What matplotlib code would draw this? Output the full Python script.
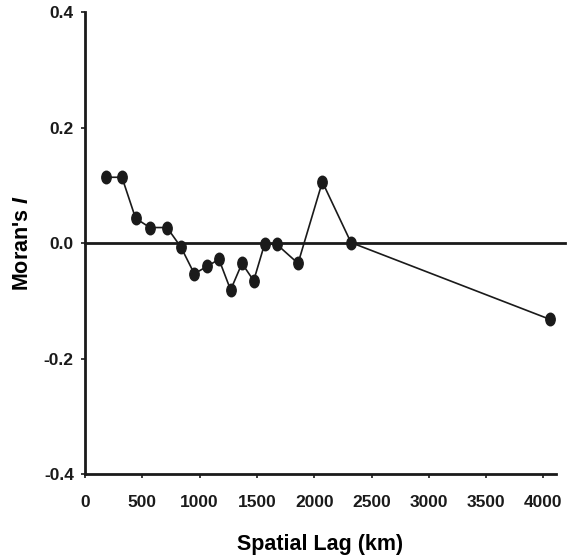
import numpy as np
import matplotlib
matplotlib.use("Agg")
import matplotlib.pyplot as plt
from matplotlib.path import Path
from matplotlib.transforms import Affine2D

plt.rcParams['font.family'] = ['Liberation Sans', 'DejaVu Sans']
plt.rcParams['font.weight'] = 'bold'
plt.rcParams['mathtext.fontset'] = 'custom'
plt.rcParams['mathtext.it'] = 'Liberation Sans:italic:bold'

lag_km = [183, 323, 442, 567, 716, 838, 954, 1067, 1169, 1271, 1370, 1472,
          1568, 1673, 1859, 2071, 2321, 4058]
morans_i = [0.114, 0.114, 0.043, 0.027, 0.027, -0.007, -0.053, -0.040, -0.028,
            -0.081, -0.035, -0.065, -0.001, -0.002, -0.035, 0.106, 0.001, -0.132]

x_ticks = [0, 500, 1000, 1500, 2000, 2500, 3000, 3500, 4000]
y_ticks = [-0.4, -0.2, 0.0, 0.2, 0.4]

# tall oval marker like the original
oval = Path.unit_circle().transformed(Affine2D().scale(0.75, 1.0))

fig = plt.figure(figsize=(5.7, 5.58), dpi=100)
ax = fig.add_axes([0.149, 0.15, 0.826, 0.8285])

# zero line runs a little past the end of the x axis
ax.axhline(0, xmax=1.02, color='#1a1a1a', lw=2.0, zorder=1, clip_on=False)
ax.plot(lag_km, morans_i, color='#1a1a1a', lw=1.2, marker=oval, ms=9,
        mfc='#1a1a1a', mec='#1a1a1a', zorder=3)

ax.set_xlim(0, 4107)
ax.set_ylim(-0.4, 0.4)
ax.set_xticks(x_ticks)
ax.set_yticks(y_ticks)
ax.set_yticklabels(['%.1f' % v for v in y_ticks])

for s in ['top', 'right']:
    ax.spines[s].set_visible(False)
for s in ['left', 'bottom']:
    ax.spines[s].set_linewidth(2.0)
    ax.spines[s].set_color('#1a1a1a')

ax.tick_params(axis='both', direction='out', length=3, width=1.2,
               labelsize=12.5, colors='#1a1a1a', pad=5)
ax.tick_params(axis='x', pad=12)

ax.set_xlabel('Spatial Lag (km)', fontsize=15.5, fontweight='bold', labelpad=17)
ax.set_ylabel(r"Moran's $\mathit{I}$", fontsize=15.5, fontweight='bold', labelpad=8)

fig.savefig('out.png', dpi=100)
